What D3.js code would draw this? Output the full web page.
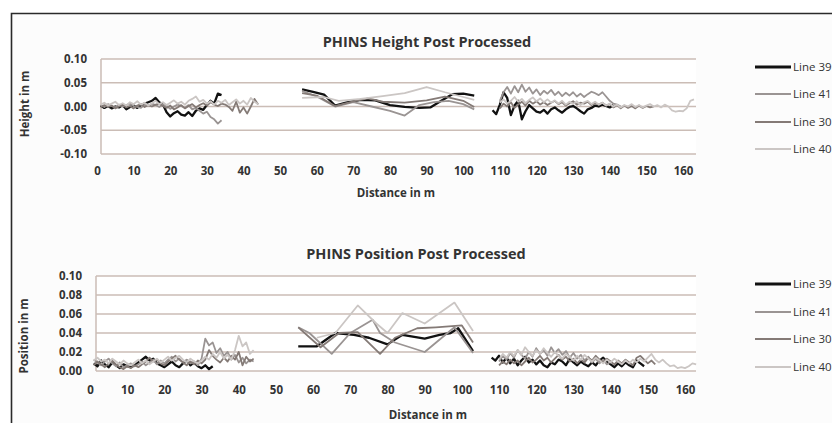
<!DOCTYPE html>
<html>
<head>
<meta charset="utf-8">
<script src="https://cdn.jsdelivr.net/npm/d3@7"></script>
<style>
  body { margin: 0; background: #fff; }
  text { font-family: "Open Sans", sans-serif; fill: #333; }
</style>
</head>
<body>
<script>
// series names + colours (legend order)
var seriesNames = ["Line 39", "Line 41", "Line 30", "Line 40"];
var seriesColors = ["#111111", "#9a9493", "#847a76", "#cbc6c4"];
var seriesWidths = [2.3, 1.8, 1.8, 1.8];

var xTicks = [0, 10, 20, 30, 40, 50, 60, 70, 80, 90, 100, 110, 120, 130, 140, 150, 160];
var heightTicks = [-0.10, -0.05, 0.00, 0.05, 0.10];
var positionTicks = [0.00, 0.02, 0.04, 0.06, 0.08, 0.10];

// ---- PHINS height (distance, metres) ----
var heightLine39 = [
  [1,0.002],[2,-0.003],[3,0.001],[4,-0.004],[5,0.0],[6,-0.002],[7,0.003],[8,-0.006],[9,-0.001],[10,0.002],[11,-0.003],[12,0.003],[13,0.006],[14,0.009],[15,0.012],[16,0.018],[17,0.009],[18,0.004],[19,-0.012],[20,-0.021],[21,-0.014],[22,-0.01],[23,-0.017],[24,-0.019],[25,-0.012],[26,-0.02],[27,-0.009],[28,-0.004],[29,-0.007],[30,0.003],[31,0.012],[32,0.006],[33,0.027],[34,0.024],
  null,
  [56,0.036],[59,0.031],[62,0.025],[65,0.002],[68,0.008],[72,0.014],[76,0.013],[80,0.003],[84,-0.001],[88,-0.003],[91,-0.002],[94,0.012],[97,0.026],[100,0.027],[103,0.023],
  null,
  [108,-0.008],[109,-0.016],[110,0.004],[111,0.03],[112,0.018],[113,-0.018],[114,0.002],[115,0.012],[116,-0.027],[117,-0.01],[118,0.003],[119,-0.004],[120,-0.011],[121,-0.013],[122,-0.007],[123,-0.015],[124,-0.006],[125,-0.002],[126,-0.008],[127,-0.013],[128,-0.006],[129,-0.001],[130,0.001],[131,-0.004],[132,-0.01],[133,-0.015],[134,-0.006],[135,-0.003],[136,0.002],[137,0.0],[138,0.004],[139,0.001],[140,-0.002],[141,0.003]
];
var heightLine41 = [
  [1,0.003],[2,-0.001],[3,0.005],[4,0.001],[5,-0.002],[6,0.004],[7,0.0],[8,0.003],[9,0.006],[10,0.001],[11,-0.001],[12,-0.003],[13,0.004],[14,0.001],[15,0.006],[16,0.003],[17,-0.001],[18,0.004],[19,0.001],[20,-0.005],[21,0.0],[22,0.004],[23,0.001],[24,-0.003],[25,0.003],[26,-0.006],[27,-0.003],[28,-0.009],[29,-0.015],[30,-0.011],[31,-0.022],[32,-0.027],[33,-0.036],[34,-0.029],
  null,
  [56,0.033],[60,0.021],[65,0.0],[70,0.009],[75,0.0],[80,-0.009],[84,-0.019],[88,0.003],[92,0.009],[96,0.012],[100,0.005],[103,-0.006],
  null,
  [110,0.012],[111,0.03],[112,0.041],[113,0.027],[114,0.043],[115,0.03],[116,0.046],[117,0.031],[118,0.04],[119,0.027],[120,0.036],[121,0.024],[122,0.033],[123,0.027],[124,0.035],[125,0.024],[126,0.031],[127,0.022],[128,0.029],[129,0.023],[130,0.03],[131,0.021],[132,0.027],[133,0.02],[134,0.026],[135,0.031],[136,0.028],[137,0.024],[138,0.03],[139,0.021],[140,0.012],[141,0.006],[142,0.004],[143,0.0]
];
var heightLine30 = [
  [1,-0.002],[2,0.003],[3,-0.001],[4,0.002],[5,-0.004],[6,0.0],[7,0.004],[8,-0.002],[9,0.001],[10,-0.004],[11,0.002],[12,0.005],[13,-0.001],[14,0.003],[15,0.0],[16,0.004],[17,0.006],[18,0.001],[19,-0.003],[20,0.002],[21,-0.006],[22,-0.002],[23,0.003],[24,-0.004],[25,0.001],[26,0.005],[27,-0.002],[28,0.003],[29,0.007],[30,0.002],[31,0.009],[32,0.004],[33,0.001],[34,0.006],[35,0.004],[36,-0.001],[37,-0.009],[38,0.01],[39,-0.013],[40,-0.002],[41,-0.015],[42,0.0],[43,0.016],[44,0.004],
  null,
  [56,0.028],[60,0.023],[65,0.001],[70,0.011],[74,0.017],[78,0.01],[84,0.008],[90,0.013],[95,0.021],[100,0.012],[103,-0.001],
  null,
  [110,-0.004],[111,0.006],[112,0.0],[113,0.009],[114,-0.003],[115,0.004],[116,0.01],[117,0.002],[118,0.012],[119,0.006],[120,0.011],[121,0.004],[122,0.009],[123,0.003],[124,0.008],[125,0.012],[126,0.005],[127,0.009],[128,0.002],[129,0.007],[130,0.011],[131,0.004],[132,0.008],[133,0.006],[134,0.01],[135,0.003],[136,0.007],[137,0.004],[138,0.008],[139,0.002],[140,0.005],[141,-0.002],[142,0.003],[143,-0.004],[144,0.002],[145,-0.003],[146,0.001],[147,-0.004],[148,0.002],[149,-0.003],[150,0.001],[151,-0.002],[152,0.0]
];
var heightLine40 = [
  [1,0.004],[2,0.008],[3,0.002],[4,0.006],[5,0.01],[6,0.003],[7,0.007],[8,0.002],[9,0.009],[10,0.005],[11,0.011],[12,0.004],[13,0.008],[14,0.002],[15,0.007],[16,0.012],[17,0.005],[18,0.009],[19,0.003],[20,0.008],[21,0.013],[22,0.006],[23,0.01],[24,0.004],[25,0.012],[26,0.016],[27,0.021],[28,0.01],[29,0.014],[30,0.006],[31,0.011],[32,0.004],[33,0.012],[34,0.008],[35,0.014],[36,0.003],[37,0.009],[38,0.015],[39,0.006],[40,0.012],[41,0.004],[42,0.018],[43,0.01],[44,0.005],
  null,
  [56,0.018],[62,0.02],[66,0.012],[72,0.016],[78,0.022],[84,0.028],[90,0.041],[95,0.03],[100,0.02],[103,0.014],
  null,
  [110,0.008],[111,0.015],[112,0.006],[113,0.012],[114,0.02],[115,0.01],[116,0.016],[117,0.007],[118,0.014],[119,0.019],[120,0.011],[121,0.017],[122,0.009],[123,0.015],[124,0.008],[125,0.013],[126,0.006],[127,0.012],[128,0.004],[129,0.01],[130,0.005],[131,0.011],[132,0.003],[133,0.009],[134,0.012],[135,0.005],[136,0.01],[137,0.004],[138,0.008],[139,0.002],[140,0.006],[141,0.0],[142,0.004],[143,-0.002],[144,0.003],[145,0.0],[146,0.005],[147,-0.001],[148,0.003],[149,-0.002],[150,0.002],[151,0.005],[152,0.0],[153,0.003],[154,-0.002],[155,0.004],[156,0.0],[157,-0.008],[158,-0.011],[159,-0.009],[160,-0.01],[161,-0.004],[162,0.012],[163,0.015]
];

// ---- PHINS position ----
var positionLine39 = [
  [1,0.008],[2,0.005],[3,0.011],[4,0.007],[5,0.004],[6,0.009],[7,0.006],[8,0.003],[9,0.007],[10,0.005],[11,0.004],[12,0.006],[13,0.009],[14,0.012],[15,0.015],[16,0.011],[17,0.013],[18,0.008],[19,0.006],[20,0.004],[21,0.007],[22,0.01],[23,0.006],[24,0.004],[25,0.008],[26,0.011],[27,0.006],[28,0.009],[29,0.005],[30,0.003],[31,0.006],[32,0.002],[33,0.005],
  null,
  [56,0.026],[61,0.026],[66,0.04],[71,0.038],[75,0.035],[80,0.028],[84,0.038],[90,0.034],[94,0.038],[97,0.04],[99,0.045],[103,0.021],
  null,
  [108,0.014],[109,0.011],[110,0.016],[111,0.009],[112,0.014],[113,0.008],[114,0.013],[115,0.006],[116,0.011],[117,0.015],[118,0.009],[119,0.012],[120,0.007],[121,0.011],[122,0.006],[123,0.004],[124,0.009],[125,0.007],[126,0.012],[127,0.01],[128,0.006],[129,0.013],[130,0.009],[131,0.006],[132,0.01],[133,0.007],[134,0.005],[135,0.009],[136,0.006],[137,0.011],[138,0.014],[139,0.01],[140,0.007],[141,0.004],[142,0.008],[143,0.005],[144,0.009],[145,0.006],[146,0.004],[147,0.011],[148,0.008],[149,0.005]
];
var positionLine41 = [
  [1,0.012],[2,0.009],[3,0.006],[4,0.01],[5,0.013],[6,0.008],[7,0.005],[8,0.009],[9,0.004],[10,0.006],[11,0.008],[12,0.005],[13,0.007],[14,0.01],[15,0.006],[16,0.009],[17,0.012],[18,0.007],[19,0.011],[20,0.008],[21,0.012],[22,0.015],[23,0.01],[24,0.013],[25,0.009],[26,0.012],[27,0.008],[28,0.01],[29,0.006],[30,0.013],[31,0.034],[32,0.027],[33,0.03],[34,0.019],[35,0.024],[36,0.016],[37,0.02],[38,0.012],[39,0.017],[40,0.009],[41,0.014],[42,0.008],[43,0.012],[44,0.01],
  null,
  [56,0.046],[59,0.04],[65,0.018],[70,0.04],[76,0.054],[78,0.04],[82,0.03],[90,0.02],[98,0.046],[103,0.019],
  null,
  [110,0.01],[111,0.016],[112,0.012],[113,0.019],[114,0.014],[115,0.022],[116,0.017],[117,0.013],[118,0.02],[119,0.015],[120,0.024],[121,0.018],[122,0.022],[123,0.016],[124,0.025],[125,0.019],[126,0.023],[127,0.017],[128,0.021],[129,0.014],[130,0.019],[131,0.013],[132,0.017],[133,0.011],[134,0.015],[135,0.009],[136,0.013],[137,0.008],[138,0.012],[139,0.007],[140,0.01]
];
var positionLine30 = [
  [1,0.006],[2,0.01],[3,0.007],[4,0.004],[5,0.008],[6,0.011],[7,0.007],[8,0.004],[9,0.002],[10,0.005],[11,0.003],[12,0.006],[13,0.004],[14,0.007],[15,0.01],[16,0.014],[17,0.01],[18,0.012],[19,0.008],[20,0.006],[21,0.01],[22,0.013],[23,0.016],[24,0.012],[25,0.009],[26,0.006],[27,0.01],[28,0.007],[29,0.011],[30,0.008],[31,0.012],[32,0.022],[33,0.016],[34,0.012],[35,0.009],[36,0.014],[37,0.01],[38,0.016],[39,0.012],[40,0.02],[41,0.006],[42,0.015],[43,0.01],[44,0.013],
  null,
  [56,0.046],[62,0.025],[67,0.04],[72,0.041],[78,0.018],[82,0.035],[88,0.045],[93,0.046],[100,0.048],[103,0.03],
  null,
  [110,0.006],[111,0.01],[112,0.007],[113,0.012],[114,0.008],[115,0.011],[116,0.006],[117,0.01],[118,0.014],[119,0.009],[120,0.012],[121,0.016],[122,0.011],[123,0.014],[124,0.009],[125,0.013],[126,0.017],[127,0.012],[128,0.015],[129,0.01],[130,0.013],[131,0.008],[132,0.012],[133,0.009],[134,0.014],[135,0.011],[136,0.016],[137,0.012],[138,0.009],[139,0.013],[140,0.01],[141,0.007],[142,0.011],[143,0.008],[144,0.012],[145,0.009],[146,0.006],[147,0.014],[148,0.016],[149,0.012],[150,0.008],[151,0.011],[152,0.007]
];
var positionLine40 = [
  [1,0.011],[2,0.014],[3,0.01],[4,0.012],[5,0.008],[6,0.013],[7,0.01],[8,0.007],[9,0.011],[10,0.008],[11,0.006],[12,0.009],[13,0.012],[14,0.008],[15,0.011],[16,0.007],[17,0.01],[18,0.013],[19,0.009],[20,0.012],[21,0.015],[22,0.011],[23,0.014],[24,0.016],[25,0.012],[26,0.009],[27,0.013],[28,0.01],[29,0.008],[30,0.011],[31,0.015],[32,0.012],[33,0.018],[34,0.014],[35,0.02],[36,0.013],[37,0.017],[38,0.012],[39,0.022],[40,0.037],[41,0.026],[42,0.03],[43,0.018],[44,0.022],
  null,
  [61,0.035],[66,0.04],[72,0.069],[77,0.05],[80,0.04],[84,0.061],[90,0.05],[98,0.072],[103,0.042],
  null,
  [110,0.012],[111,0.018],[112,0.014],[113,0.02],[114,0.016],[115,0.022],[116,0.017],[117,0.025],[118,0.02],[119,0.016],[120,0.022],[121,0.018],[122,0.024],[123,0.019],[124,0.015],[125,0.02],[126,0.016],[127,0.013],[128,0.018],[129,0.015],[130,0.011],[131,0.016],[132,0.012],[133,0.017],[134,0.013],[135,0.01],[136,0.014],[137,0.011],[138,0.008],[139,0.012],[140,0.009],[141,0.013],[142,0.01],[143,0.007],[144,0.011],[145,0.008],[146,0.012],[147,0.009],[148,0.013],[149,0.01],[150,0.014],[151,0.018],[152,0.012],[153,0.009],[154,0.012],[155,0.008],[156,0.005],[157,0.006],[158,0.003],[159,0.004],[160,0.003],[161,0.005],[162,0.008],[163,0.007]
];

var w = 832, h = 423;

var svg = d3.select("body").append("svg")
    .attr("width", w)
    .attr("height", h);

// panel background + dark top/left frame
svg.append("rect")
    .attr("x", 11).attr("y", 13)
    .attr("width", w - 11).attr("height", h - 13)
    .style("fill", "#fcfcfc");
svg.append("path")
    .attr("d", "M11.5," + h + "V13.5H" + w)
    .style("fill", "none")
    .style("stroke", "#2a2a2a")
    .style("stroke-width", 1.6);

function drawChart(opt) {
    var g = svg.append("g");

    var x = d3.scaleLinear().domain([0, 160]).range(opt.xRange);
    var y = d3.scaleLinear().domain(opt.yDomain).range(opt.yRange);

    // plot area
    g.append("rect")
        .attr("x", opt.left).attr("y", opt.yRange[1])
        .attr("width", opt.right - opt.left)
        .attr("height", opt.yRange[0] - opt.yRange[1])
        .style("fill", "#fff");

    // gridlines
    g.selectAll(".grid")
        .data(opt.yTicks)
        .enter()
        .append("line")
        .attr("x1", opt.left).attr("x2", opt.right)
        .attr("y1", function(d) { return y(d); })
        .attr("y2", function(d) { return y(d); })
        .style("stroke", "#cbbdb6")
        .style("stroke-width", 1.5);

    g.append("line")
        .attr("x1", opt.left).attr("x2", opt.left)
        .attr("y1", opt.yRange[1]).attr("y2", opt.yRange[0])
        .style("stroke", "#cbbdb6")
        .style("stroke-width", 1.5);

    // y axis labels (plain hyphen for negatives, like the original)
    var yAxis = d3.axisLeft(y)
        .tickValues(opt.yTicks)
        .tickSize(0)
        .tickPadding(14)
        .tickFormat(function(d) { return d.toFixed(2); });
    var ya = g.append("g")
        .attr("transform", "translate(" + opt.left + ",0)")
        .call(yAxis);
    ya.select(".domain").remove();
    ya.selectAll("text")
        .style("font-size", "11.5px")
        .style("font-weight", "bold")
        .style("fill", "#333")
        .style("font-family", "'Open Sans', sans-serif");

    // x axis labels
    var xAxis = d3.axisBottom(x)
        .tickValues(xTicks)
        .tickSize(0)
        .tickPadding(opt.xPad);
    var xa = g.append("g")
        .attr("transform", "translate(0," + opt.yRange[0] + ")")
        .call(xAxis);
    xa.select(".domain").remove();
    xa.selectAll("text")
        .style("font-size", "11.5px")
        .style("font-weight", "bold")
        .style("fill", "#333")
        .style("font-family", "'Open Sans', sans-serif");

    // lines
    var line = d3.line()
        .defined(function(d) { return d !== null; })
        .x(function(d) { return x(d[0]); })
        .y(function(d) { return y(d[1]); });

    opt.series.forEach(function(s, i) {
        g.append("path")
            .datum(s)
            .attr("d", line)
            .style("fill", "none")
            .style("stroke", seriesColors[i])
            .style("stroke-width", seriesWidths[i])
            .style("stroke-linejoin", "round");
    });

    // titles
    g.append("text")
        .attr("x", opt.titleX).attr("y", opt.titleY)
        .attr("text-anchor", "middle")
        .style("font-size", "14.5px")
        .style("font-weight", "bold")
        .text(opt.title);

    g.append("text")
        .attr("x", opt.xLabelX).attr("y", opt.xLabelY)
        .attr("text-anchor", "middle")
        .style("font-size", "11.5px")
        .style("font-weight", "bold")
        .text("Distance in m");

    g.append("text")
        .attr("transform", "translate(" + opt.yLabelX + "," + opt.yLabelY + ") rotate(-90)")
        .attr("text-anchor", "middle")
        .style("font-size", "11.5px")
        .style("font-weight", "bold")
        .text(opt.yLabel);

    // legend
    var lg = g.selectAll(".legend")
        .data(seriesNames)
        .enter()
        .append("g")
        .attr("transform", function(d, i) { return "translate(755," + opt.legendY[i] + ")"; });
    lg.append("line")
        .attr("x1", 0).attr("x2", 36)
        .style("stroke", function(d, i) { return seriesColors[i]; })
        .style("stroke-width", function(d, i) { return i == 0 ? 3 : 2; });
    lg.append("text")
        .attr("x", 38).attr("dy", "0.35em")
        .style("font-size", "11.5px")
        .text(function(d) { return d; });
}

drawChart({
    series: [heightLine39, heightLine41, heightLine30, heightLine40],
    yDomain: [-0.10, 0.10], yRange: [154, 59], yTicks: heightTicks,
    xRange: [97, 683], left: 101, right: 696, xPad: 13,
    title: "PHINS Height Post Processed", titleX: 427, titleY: 47,
    xLabelX: 396, xLabelY: 197,
    yLabel: "Height in m", yLabelX: 29, yLabelY: 104,
    legendY: [67, 94, 122, 149]
});

drawChart({
    series: [positionLine39, positionLine41, positionLine30, positionLine40],
    yDomain: [0, 0.10], yRange: [371, 276], yTicks: positionTicks,
    xRange: [90, 685], left: 96, right: 696, xPad: 15,
    title: "PHINS Position Post Processed", titleX: 416, titleY: 259,
    xLabelX: 428, xLabelY: 419,
    yLabel: "Position in m", yLabelX: 28, yLabelY: 336,
    legendY: [284, 312, 339, 367]
});
</script>
</body>
</html>
